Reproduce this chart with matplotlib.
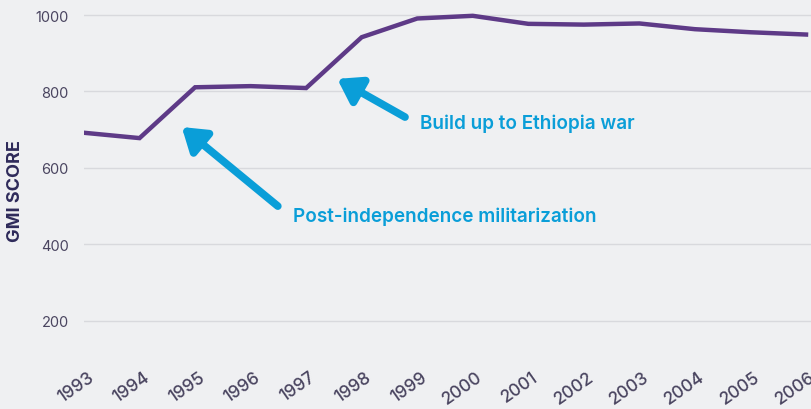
import matplotlib
matplotlib.use("Agg")
import matplotlib.pyplot as plt
from matplotlib.transforms import ScaledTranslation

years = list(range(1993, 2007))
gmi = [692, 678, 811, 814, 809, 942, 991, 998, 977, 975, 978, 963, 955, 949]
yticks = [200, 400, 600, 800, 1000]

bg = "#EFF0F2"
line_c = "#5E3A87"
blue = "#0A9ED8"
tick_c = "#4A4560"

plt.rcParams['font.family'] = ['Inter', 'DejaVu Sans']

fig = plt.figure(figsize=(8.12, 4.10), dpi=100, facecolor=bg)
ax = fig.add_axes([84/812, 50/410, 728/812, 360/410])
ax.set_facecolor(bg)
ax.plot(years, gmi, color=line_c, lw=3.2, solid_joinstyle='miter', zorder=3)
ax.set_xlim(1993, 1993 + 728/55.54)
ax.set_ylim(100, 1042)
ax.set_yticks(yticks)
ax.set_xticks(years)
ax.set_xticklabels([])
off = ScaledTranslation(3/100, -9/100, fig.dpi_scale_trans)
for yr in years:
    ax.text(yr, 0, str(yr), transform=ax.get_xaxis_transform() + off,
            rotation=35, ha='right', va='top', rotation_mode='anchor',
            fontsize=12.5, fontweight='medium', color=tick_c, clip_on=False)
ax.tick_params(axis='y', length=0, pad=11, labelsize=10.5, labelcolor=tick_c)
ax.tick_params(axis='x', length=0)
ax.grid(axis='y', color='#D8D9DD', lw=1)
ax.set_axisbelow(True)
for s in ax.spines.values():
    s.set_visible(False)
ax.set_ylabel("GMI SCORE", fontsize=13, fontweight='bold', color='#2E2A5A')
ax.yaxis.set_label_coords(-0.083, 0.47)

ap = dict(arrowstyle='-|>,head_length=0.9,head_width=0.6', lw=5.5, color=blue,
          mutation_scale=15, shrinkA=0, shrinkB=0)
ax.annotate("", xy=(1994.76, 707), xytext=(1996.49, 500), arrowprops=ap)
ax.annotate("", xy=(1997.56, 833), xytext=(1998.78, 733), arrowprops=ap)
ax.text(1996.76, 474, "Post-independence militarization", color=blue, fontsize=13.6,
        fontweight='semibold', va='center', ha='left')
ax.text(1999.05, 718, "Build up to Ethiopia war", color=blue, fontsize=13.6,
        fontweight='semibold', va='center', ha='left')

fig.savefig("out.png", dpi=100, facecolor=bg)
